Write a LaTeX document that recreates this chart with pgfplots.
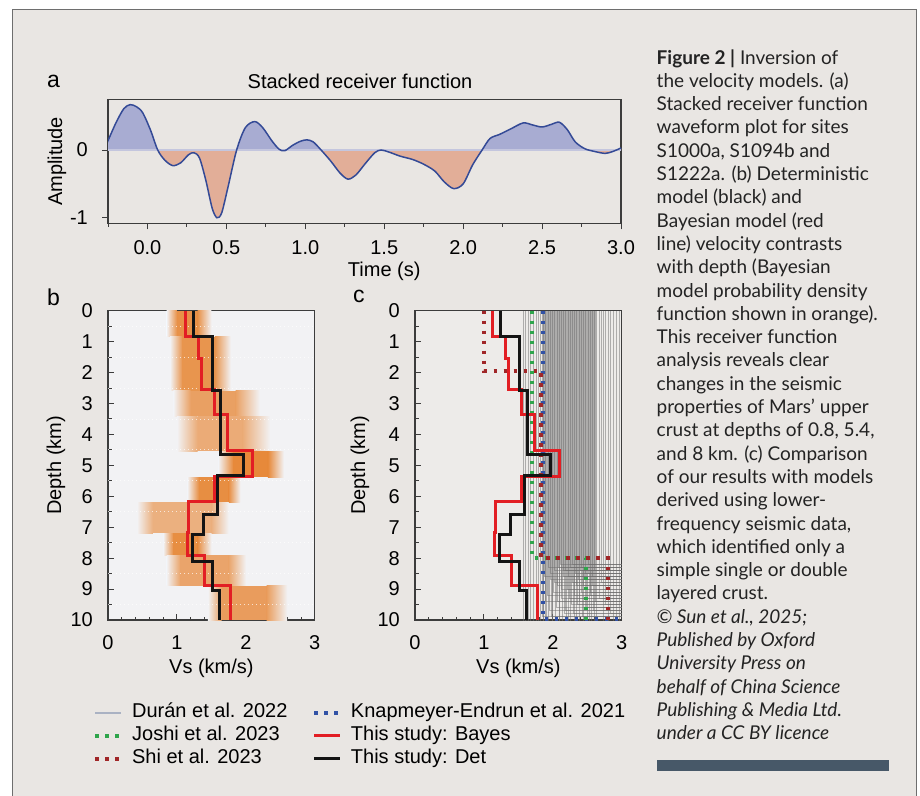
\documentclass[border=0pt]{standalone}
\usepackage{fontspec}
\setmainfont{Liberation Sans}
\newfontfamily\capfont{Lato}
\usepackage{pgfplots}
\usepackage{pgfplotstable}
\pgfplotsset{compat=1.18}

\definecolor{pagebg}{RGB}{233,230,227}
\definecolor{framecol}{RGB}{110,110,110}
\definecolor{axcol}{RGB}{60,60,60}
\definecolor{posfill}{RGB}{168,172,210}
\definecolor{negfill}{RGB}{226,174,152}
\definecolor{waveline}{RGB}{52,74,150}
\definecolor{zerocol}{RGB}{196,198,222}
\definecolor{pdfbg}{RGB}{242,242,244}
\definecolor{pdfor}{RGB}{230,128,42}
\definecolor{cbg}{RGB}{237,235,233}
\definecolor{bayes}{RGB}{226,30,36}
\definecolor{det}{RGB}{20,20,20}
\definecolor{knap}{RGB}{50,82,165}
\definecolor{joshi}{RGB}{46,165,75}
\definecolor{shi}{RGB}{160,38,40}
\definecolor{duran}{RGB}{110,110,110}
\definecolor{duranleg}{RGB}{170,178,195}
\definecolor{barcol}{RGB}{71,88,104}
\definecolor{captext}{RGB}{35,35,35}

\newcommand\chartfont{\fontsize{20bp}{24bp}\selectfont}

\pgfplotstableread{
t a
-0.255 0.11
-0.20 0.40
-0.15 0.61
-0.11 0.67
-0.07 0.64
-0.03 0.55
0.02 0.29
0.065 0.0
0.11 -0.15
0.16 -0.23
0.21 -0.19
0.26 -0.07
0.295 -0.04
0.33 -0.12
0.37 -0.45
0.41 -0.86
0.44 -1.0
0.47 -0.93
0.51 -0.55
0.565 0.0
0.62 0.33
0.68 0.42
0.73 0.33
0.79 0.13
0.835 0.01
0.87 -0.01
0.92 0.07
0.97 0.13
1.01 0.15
1.05 0.12
1.10 0.0
1.16 -0.16
1.22 -0.34
1.27 -0.43
1.32 -0.37
1.38 -0.20
1.44 -0.04
1.48 0.0
1.53 -0.03
1.60 -0.09
1.68 -0.14
1.75 -0.21
1.82 -0.31
1.88 -0.47
1.94 -0.57
2.00 -0.50
2.06 -0.22
2.12 0.0
2.17 0.17
2.23 0.23
2.30 0.31
2.38 0.40
2.44 0.37
2.50 0.34
2.56 0.38
2.61 0.41
2.66 0.30
2.71 0.12
2.77 0.02
2.83 -0.02
2.90 -0.05
2.95 -0.02
3.00 0.03
}\wavetab

\pgfplotstableread{
v d
1.24 0
1.24 0.82
1.51 0.82
1.51 2.58
1.63 2.58
1.63 4.64
1.96 4.64
1.96 5.33
1.59 5.33
1.59 6.58
1.39 6.58
1.39 7.25
1.22 7.25
1.22 8.12
1.52 8.12
1.52 9.04
1.62 9.04
1.62 10
}\dettab

\pgfplotstableread{
v d
1.12 0
1.12 0.85
1.32 0.85
1.32 1.54
1.35 1.54
1.35 2.56
1.54 2.56
1.54 3.37
1.73 3.37
1.73 4.53
2.10 4.53
2.10 5.36
1.55 5.36
1.55 6.17
1.17 6.17
1.17 7.18
1.15 7.18
1.15 7.90
1.40 7.90
1.40 8.88
1.77 8.88
1.77 10
}\bayestab

\pgfplotsset{
  myaxis/.style={
    scale only axis,
    /pgf/number format/assume math mode=true,
    axis line style={axcol, line width=1.2bp},
    every tick/.style={axcol, line width=1bp},
    major tick length=6bp,
    minor tick length=3.5bp,
    tick pos=left,
    tick label style={font=\chartfont, text=black},
    label style={font=\chartfont, text=black},
  },
  depthaxis/.style={
    myaxis,
    width=206.8bp, height=309.3bp,
    xmin=0, xmax=3, ymin=0, ymax=10,
    y dir=reverse,
    xtick={0,1,2,3}, minor x tick num=4,
    ytick={0,1,...,10}, minor y tick num=1,
    tick align=inside,
    xticklabel style={anchor=center, yshift=-23bp},
    yticklabel style={anchor=east, inner sep=0pt, xshift=-15bp},
    xlabel={Vs (km/s)},
    xlabel style={at={(axis description cs:0.5,-0.155)}, anchor=center},
    ylabel={Depth (km)},
  },
  dotline/.style={line width=3.5bp, dash pattern=on 3.5bp off 6.5bp},
}

\newcommand\pdfband[7]{%
  \addplot[draw=none, forget plot, left color=pdfbg, right color=pdfor!#7!pdfbg] coordinates {(#3,#1) (#4,#1) (#4,#2) (#3,#2)} -- cycle;
  \addplot[draw=none, forget plot, fill=pdfor!#7!pdfbg] coordinates {(#4,#1) (#5,#1) (#5,#2) (#4,#2)} -- cycle;
  \addplot[draw=none, forget plot, left color=pdfor!#7!pdfbg, right color=pdfbg] coordinates {(#5,#1) (#6,#1) (#6,#2) (#5,#2)} -- cycle;
}
\newcommand\dur[2]{\addplot[duran, line width=1bp, opacity=0.5, forget plot] coordinates {(#1,0) (#1,#2) (3.3,#2)};}

\newcommand\capline[2]{\node[anchor=base west, inner sep=0pt, text=captext, font=\capfont\fontsize{19bp}{23bp}\selectfont] at (656.5bp,{-(64+23.3*#1)*1bp}) {#2};}

\begin{document}
\begin{tikzpicture}
\useasboundingbox (0,0) rectangle (920bp,-796bp);
\fill[white] (0,0) rectangle (920bp,-796bp);
\draw[fill=pagebg, draw=framecol, line width=1.3bp] (12.3bp,-9.3bp) rectangle (916.7bp,-830bp);

% ---------- panel a ----------
\begin{axis}[myaxis,
  at={(108bp,-99.3bp)}, anchor=north west,
  width=513bp, height=124.1bp,
  xmin=-0.25, xmax=3, ymin=-1.084, ymax=0.749,
  tick align=outside,
  xtick={0,0.5,1,1.5,2,2.5,3},
  xticklabels={0.0,0.5,1.0,1.5,2.0,2.5,3.0},
  minor xtick={-0.25,0.25,0.75,1.25,1.75,2.25,2.75},
  ytick={-1,0}, yticklabels={-1,0},
  xticklabel style={anchor=center, yshift=-18.6bp},
  yticklabel style={anchor=east, inner sep=0pt, xshift=-14bp},
  xlabel={Time (s)},
  xlabel style={at={(axis description cs:0.5385,-0.3836)}, anchor=center},
  ylabel={Amplitude},
  ylabel style={at={(axis description cs:-0.0994,0.5)}, anchor=center},
]
\begin{scope}
\clip (axis cs:-0.3,0) rectangle (axis cs:3.1,1);
\addplot[posfill, draw=none, fill=posfill, smooth, forget plot] table[x=t, y=a] {\wavetab} -- (axis cs:3,0) -- (axis cs:-0.255,0) -- cycle;
\end{scope}
\begin{scope}
\clip (axis cs:-0.3,-1.2) rectangle (axis cs:3.1,0);
\addplot[negfill, draw=none, fill=negfill, smooth, forget plot] table[x=t, y=a] {\wavetab} -- (axis cs:3,0) -- (axis cs:-0.255,0) -- cycle;
\end{scope}
\addplot[zerocol, line width=1.5bp, forget plot] coordinates {(-0.25,0) (3,0)};
\addplot[waveline, line width=1.5bp, smooth, forget plot] table[x=t, y=a] {\wavetab};
\end{axis}

% ---------- panel b ----------
\begin{axis}[depthaxis,
  at={(108bp,-310.7bp)}, anchor=north west,
  axis background/.style={fill=pdfbg},
  ylabel style={at={(axis description cs:-0.2516,0.5)}, anchor=center},
]
\pdfband{0}{0.85}{0.85}{1.0}{1.3}{1.5}{85}
\pdfband{0.85}{2.58}{0.9}{1.08}{1.55}{1.78}{82}
\pdfband{2.58}{3.42}{0.95}{1.2}{1.85}{2.2}{72}
\pdfband{3.42}{4.55}{1.0}{1.3}{1.95}{2.35}{62}
\pdfband{4.55}{5.38}{1.6}{1.82}{2.32}{2.55}{92}
\pdfband{5.38}{6.2}{1.15}{1.32}{1.75}{1.92}{88}
\pdfband{6.2}{7.2}{0.42}{0.65}{1.5}{1.75}{58}
\pdfband{7.2}{7.9}{0.8}{0.95}{1.3}{1.5}{88}
\pdfband{7.9}{8.9}{0.85}{1.05}{1.75}{2.0}{68}
\pdfband{8.9}{10}{1.45}{1.65}{2.3}{2.6}{75}
\pgfplotsinvokeforeach{0.5,1.5,2.5,3.5,4.5,5.5,6.5,7.5,8.5,9.5}{
  \addplot[white, line width=0.8bp, dash pattern=on 1.2bp off 2.8bp, opacity=0.7, forget plot] coordinates {(0,#1) (3,#1)};
}
\addplot[bayes, line width=3bp, forget plot] table[x=v, y=d] {\bayestab};
\addplot[det, line width=3bp, forget plot] table[x=v, y=d] {\dettab};
\end{axis}

% ---------- panel c ----------
\begin{axis}[depthaxis,
  at={(415bp,-310.7bp)}, anchor=north west,
  axis background/.style={fill=cbg},
  ylabel style={at={(axis description cs:-0.266,0.5)}, anchor=center},
  legend columns=2,
  legend cell align=left,
  legend image code/.code={\draw[#1] (0bp,0bp) -- (26bp,0bp);},
  legend style={at={(axis description cs:-1.5549,-0.2706)}, anchor=north west,
    draw=none, fill=none, inner sep=0pt, font=\chartfont, row sep=5bp,
    nodes={inner sep=0pt, text height=14bp, text depth=4bp},
    /tikz/every odd column/.append style={column sep=9bp},
    /tikz/every even column/.append style={column sep=25bp}},
]
\dur{1.58}{10.5}\dur{1.61}{10.5}\dur{1.64}{10.5}\dur{1.67}{10.5}
\dur{1.72}{10.5}\dur{1.76}{10.5}\dur{1.79}{10.5}\dur{1.82}{10.5}
\dur{1.85}{9.9}\dur{1.87}{10.5}\dur{1.89}{9.4}\dur{1.91}{10.5}
\dur{1.93}{8.3}\dur{1.95}{9.7}\dur{1.97}{8.7}\dur{1.99}{10.5}
\dur{2.01}{9.1}\dur{2.03}{8.4}\dur{2.05}{9.6}\dur{2.07}{8.9}
\dur{2.09}{10.5}\dur{2.11}{8.2}\dur{2.13}{9.3}\dur{2.15}{8.6}
\dur{2.17}{9.8}\dur{2.19}{8.4}\dur{2.21}{9.0}\dur{2.23}{10.5}
\dur{2.25}{8.3}\dur{2.27}{9.5}\dur{2.29}{8.8}\dur{2.31}{9.2}
\dur{2.33}{8.5}\dur{2.35}{10.5}\dur{2.37}{8.7}\dur{2.39}{9.4}
\dur{2.41}{8.3}\dur{2.43}{9.9}\dur{2.45}{8.9}\dur{2.47}{8.5}
\dur{2.49}{9.6}\dur{2.51}{8.2}\dur{2.53}{10.5}\dur{2.55}{9.1}
\dur{2.57}{8.6}\dur{2.59}{9.7}\dur{2.61}{8.4}\dur{2.64}{10.5}
\dur{2.67}{9.3}\dur{2.70}{8.8}\dur{2.73}{10.5}\dur{2.76}{9.5}
\dur{2.80}{10.5}\dur{2.84}{9.8}\dur{2.88}{10.5}\dur{2.92}{10.5}
\dur{2.96}{10.5}
\dur{1.86}{10.5}\dur{1.88}{8.6}\dur{1.90}{10.5}\dur{1.92}{9.2}
\dur{1.94}{10.5}\dur{1.96}{8.5}\dur{1.98}{9.9}\dur{2.00}{10.5}
\dur{2.02}{8.8}\dur{2.04}{10.5}\dur{2.06}{9.4}\dur{2.08}{8.3}
\dur{2.10}{10.5}\dur{2.12}{9.0}\dur{2.14}{10.5}\dur{2.16}{8.4}
\dur{2.18}{9.7}\dur{2.20}{10.5}\dur{2.22}{8.6}\dur{2.24}{9.3}
\dur{2.26}{10.5}\dur{2.28}{8.2}\dur{2.30}{9.8}\dur{2.32}{10.5}
\dur{2.34}{8.9}\dur{2.36}{9.5}\dur{2.38}{10.5}\dur{2.40}{8.4}
\dur{2.42}{9.1}\dur{2.44}{10.5}\dur{2.46}{8.7}\dur{2.48}{9.6}
\dur{2.50}{10.5}\dur{2.52}{8.5}\dur{2.54}{9.2}\dur{2.56}{10.5}
\dur{2.58}{8.9}\dur{2.60}{10.5}\dur{2.62}{9.4}
\addplot[knap, dotline, forget plot] coordinates {(1.86,0) (1.86,9.97) (3.05,9.97)};
\addplot[joshi, dotline, forget plot] coordinates {(1.70,0) (1.70,8.0) (2.48,8.0) (2.48,10)};
\addplot[shi, dotline, forget plot] coordinates {(1.0,0) (1.0,1.95) (1.83,1.95) (1.83,8.0) (2.80,8.0) (2.80,10)};
\addplot[bayes, line width=3bp, forget plot] table[x=v, y=d] {\bayestab};
\addplot[det, line width=3bp, forget plot] table[x=v, y=d] {\dettab};

\addlegendimage{duranleg, line width=1.3bp}
\addlegendentry{Durán et al. 2022}
\addlegendimage{knap, dotline}
\addlegendentry{Knapmeyer-Endrun et al. 2021}
\addlegendimage{joshi, dotline}
\addlegendentry{Joshi et al. 2023}
\addlegendimage{bayes, line width=3bp}
\addlegendentry{This study: Bayes}
\addlegendimage{shi, dotline}
\addlegendentry{Shi et al. 2023}
\addlegendimage{det, line width=3bp}
\addlegendentry{This study: Det}
\end{axis}

% ---------- titles and panel letters ----------
\node[font=\chartfont, anchor=base, inner sep=0pt] at (360bp,-88bp) {Stacked receiver function};
\node[font=\fontsize{23bp}{26bp}\selectfont, anchor=base west, inner sep=0pt] at (47bp,-87bp) {a};
\node[font=\fontsize{23bp}{26bp}\selectfont, anchor=base west, inner sep=0pt] at (47bp,-305bp) {b};
\node[font=\fontsize{23bp}{26bp}\selectfont, anchor=base west, inner sep=0pt] at (353bp,-302bp) {c};

% ---------- caption ----------
\capline{0}{\textbf{Figure 2 |} Inversion of}
\capline{1}{the velocity models. (a)}
\capline{2}{Stacked receiver function}
\capline{3}{waveform plot for sites}
\capline{4}{S1000a, S1094b and}
\capline{5}{S1222a. (b) Deterministic}
\capline{6}{model (black) and}
\capline{7}{Bayesian model (red}
\capline{8}{line) velocity contrasts}
\capline{9}{with depth (Bayesian}
\capline{10}{model probability density}
\capline{11}{function shown in orange).}
\capline{12}{This receiver function}
\capline{13}{analysis reveals clear}
\capline{14}{changes in the seismic}
\capline{15}{properties of Mars’ upper}
\capline{16}{crust at depths of 0.8, 5.4,}
\capline{17}{and 8 km. (c) Comparison}
\capline{18}{of our results with models}
\capline{19}{derived using lower-}
\capline{20}{frequency seismic data,}
\capline{21}{which identified only a}
\capline{22}{simple single or double}
\capline{23}{layered crust.}
\capline{24}{\itshape © Sun et al., 2025;}
\capline{25}{\itshape Published by Oxford}
\capline{26}{\itshape University Press on}
\capline{27}{\itshape behalf of China Science}
\capline{28}{\itshape Publishing \& Media Ltd.}
\capline{29}{\itshape under a CC BY licence}
\fill[barcol] (656.5bp,-760bp) rectangle (889bp,-770.7bp);
\end{tikzpicture}
\end{document}
